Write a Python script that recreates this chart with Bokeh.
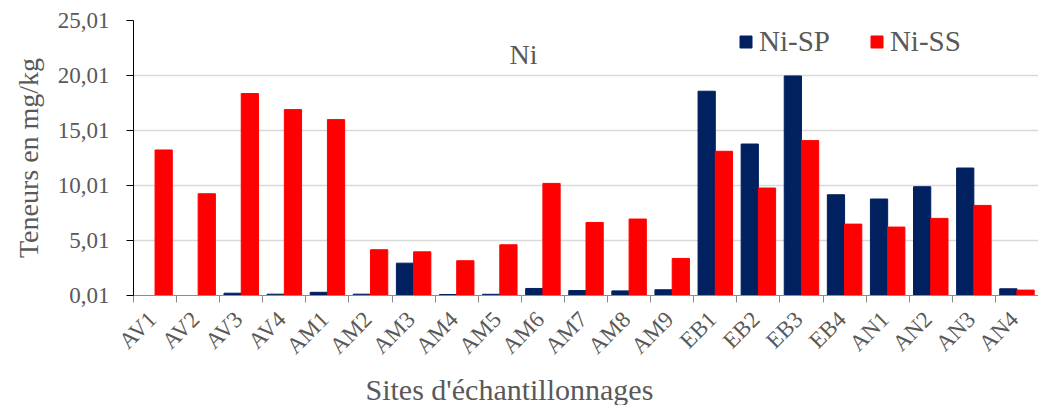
import numpy as np
from bokeh.plotting import figure
from bokeh.models import (ColumnDataSource, Range1d, FixedTicker, CustomJSTickFormatter,
                          Legend, LegendItem, Label, Title)
from bokeh.embed import file_html
from bokeh.resources import INLINE

sites = ["AV1", "AV2", "AV3", "AV4", "AM1", "AM2", "AM3", "AM4", "AM5", "AM6", "AM7",
         "AM8", "AM9", "EB1", "EB2", "EB3", "EB4", "AN1", "AN2", "AN3", "AN4"]
ni_sp = [0.0, 0.0, 0.22, 0.13, 0.30, 0.13, 2.95, 0.10, 0.12, 0.65, 0.46,
         0.43, 0.53, 18.58, 13.78, 19.97, 9.17, 8.78, 9.90, 11.60, 0.62]
ni_ss = [13.24, 9.26, 18.37, 16.91, 16.00, 4.17, 3.98, 3.17, 4.62, 10.20, 6.65,
         6.96, 3.38, 13.12, 9.78, 14.09, 6.50, 6.23, 7.02, 8.20, 0.50]
y_ticks = [0.01, 5.01, 10.01, 15.01, 20.01, 25.01]
series_names = ["Ni-SP", "Ni-SS"]
title_text = "Ni"
x_label = "Sites d'échantillonnages"
y_label = "Teneurs en mg/kg"

FONT = "Liberation Serif"
TXT = "#595959"
BLUE = "#002060"
RED = "#FF0000"

n = len(sites)
centers = np.arange(n) + 0.5
label_pos = centers - 0.06
src = ColumnDataSource(dict(x_sp=centers - 0.2, x_ss=centers + 0.2, sp=ni_sp, ss=ni_ss))

p = figure(width=1038, height=405, output_backend="svg", toolbar_location=None,
           x_range=Range1d(0, n), y_range=Range1d(y_ticks[0], y_ticks[-1]),
           min_border_left=133, min_border_right=0, min_border_top=20, min_border_bottom=110)
p.outline_line_color = None
p.background_fill_color = "white"
p.border_fill_color = "white"

r_sp = p.vbar(x="x_sp", top="sp", bottom=y_ticks[0], width=0.4, source=src,
              fill_color=BLUE, line_color=BLUE)
r_ss = p.vbar(x="x_ss", top="ss", bottom=y_ticks[0], width=0.4, source=src,
              fill_color=RED, line_color=RED)

# x axis
xa = p.xaxis[0]
xa.ticker = FixedTicker(ticks=list(label_pos), minor_ticks=list(range(n + 1)))
xa.major_label_overrides = {float(c): s for c, s in zip(label_pos, sites)}
xa.major_label_orientation = np.pi / 4
xa.major_tick_out = 0
xa.major_tick_in = 0
xa.minor_tick_out = 7
xa.minor_tick_in = 0
xa.minor_tick_line_color = "#8C8C8C"
xa.axis_line_color = "#8C8C8C"
xa.major_label_text_font = FONT
xa.major_label_text_font_size = "23px"
xa.major_label_text_color = TXT
xa.major_label_standoff = 13

# x axis label, placed as a title below the axis
xt = Title(text=x_label, align="left", offset=232, standoff=0,
           text_font=FONT, text_font_size="30px", text_font_style="normal",
           text_color=TXT)
p.add_layout(xt, "below")

# y axis
ya = p.yaxis[0]
ya.ticker = FixedTicker(ticks=y_ticks, minor_ticks=[])
ya.formatter = CustomJSTickFormatter(code="return tick.toFixed(2).replace('.', ',');")
ya.major_tick_out = 7
ya.major_tick_in = 0
ya.major_tick_line_color = "black"
ya.axis_line_color = "black"
ya.major_label_text_font = FONT
ya.major_label_text_font_size = "23px"
ya.major_label_text_color = TXT
ya.major_label_standoff = 17
ya.axis_label = y_label
ya.axis_label_text_font = FONT
ya.axis_label_text_font_size = "28px"
ya.axis_label_text_font_style = "normal"
ya.axis_label_text_color = TXT
ya.axis_label_standoff = 11

p.xgrid.grid_line_color = None
p.ygrid.grid_line_color = "#D9D9D9"
p.ygrid.grid_line_width = 1.5

legend = Legend(items=[LegendItem(label=series_names[0], renderers=[r_sp]),
                       LegendItem(label=series_names[1], renderers=[r_ss])],
                orientation="horizontal", location=(605, 237),
                glyph_width=15, glyph_height=15, label_standoff=6, spacing=39,
                padding=0, margin=0, border_line_color=None,
                background_fill_alpha=0,
                label_text_font=FONT, label_text_font_size="29px", label_text_color=TXT)
p.add_layout(legend, "center")

title = Label(x=390, y=241, x_units="screen", y_units="screen", text=title_text,
              text_font=FONT, text_font_size="28px", text_color=TXT,
              text_align="center", text_baseline="alphabetic")
p.add_layout(title)

open("out.html", "w").write(file_html(p, INLINE))
